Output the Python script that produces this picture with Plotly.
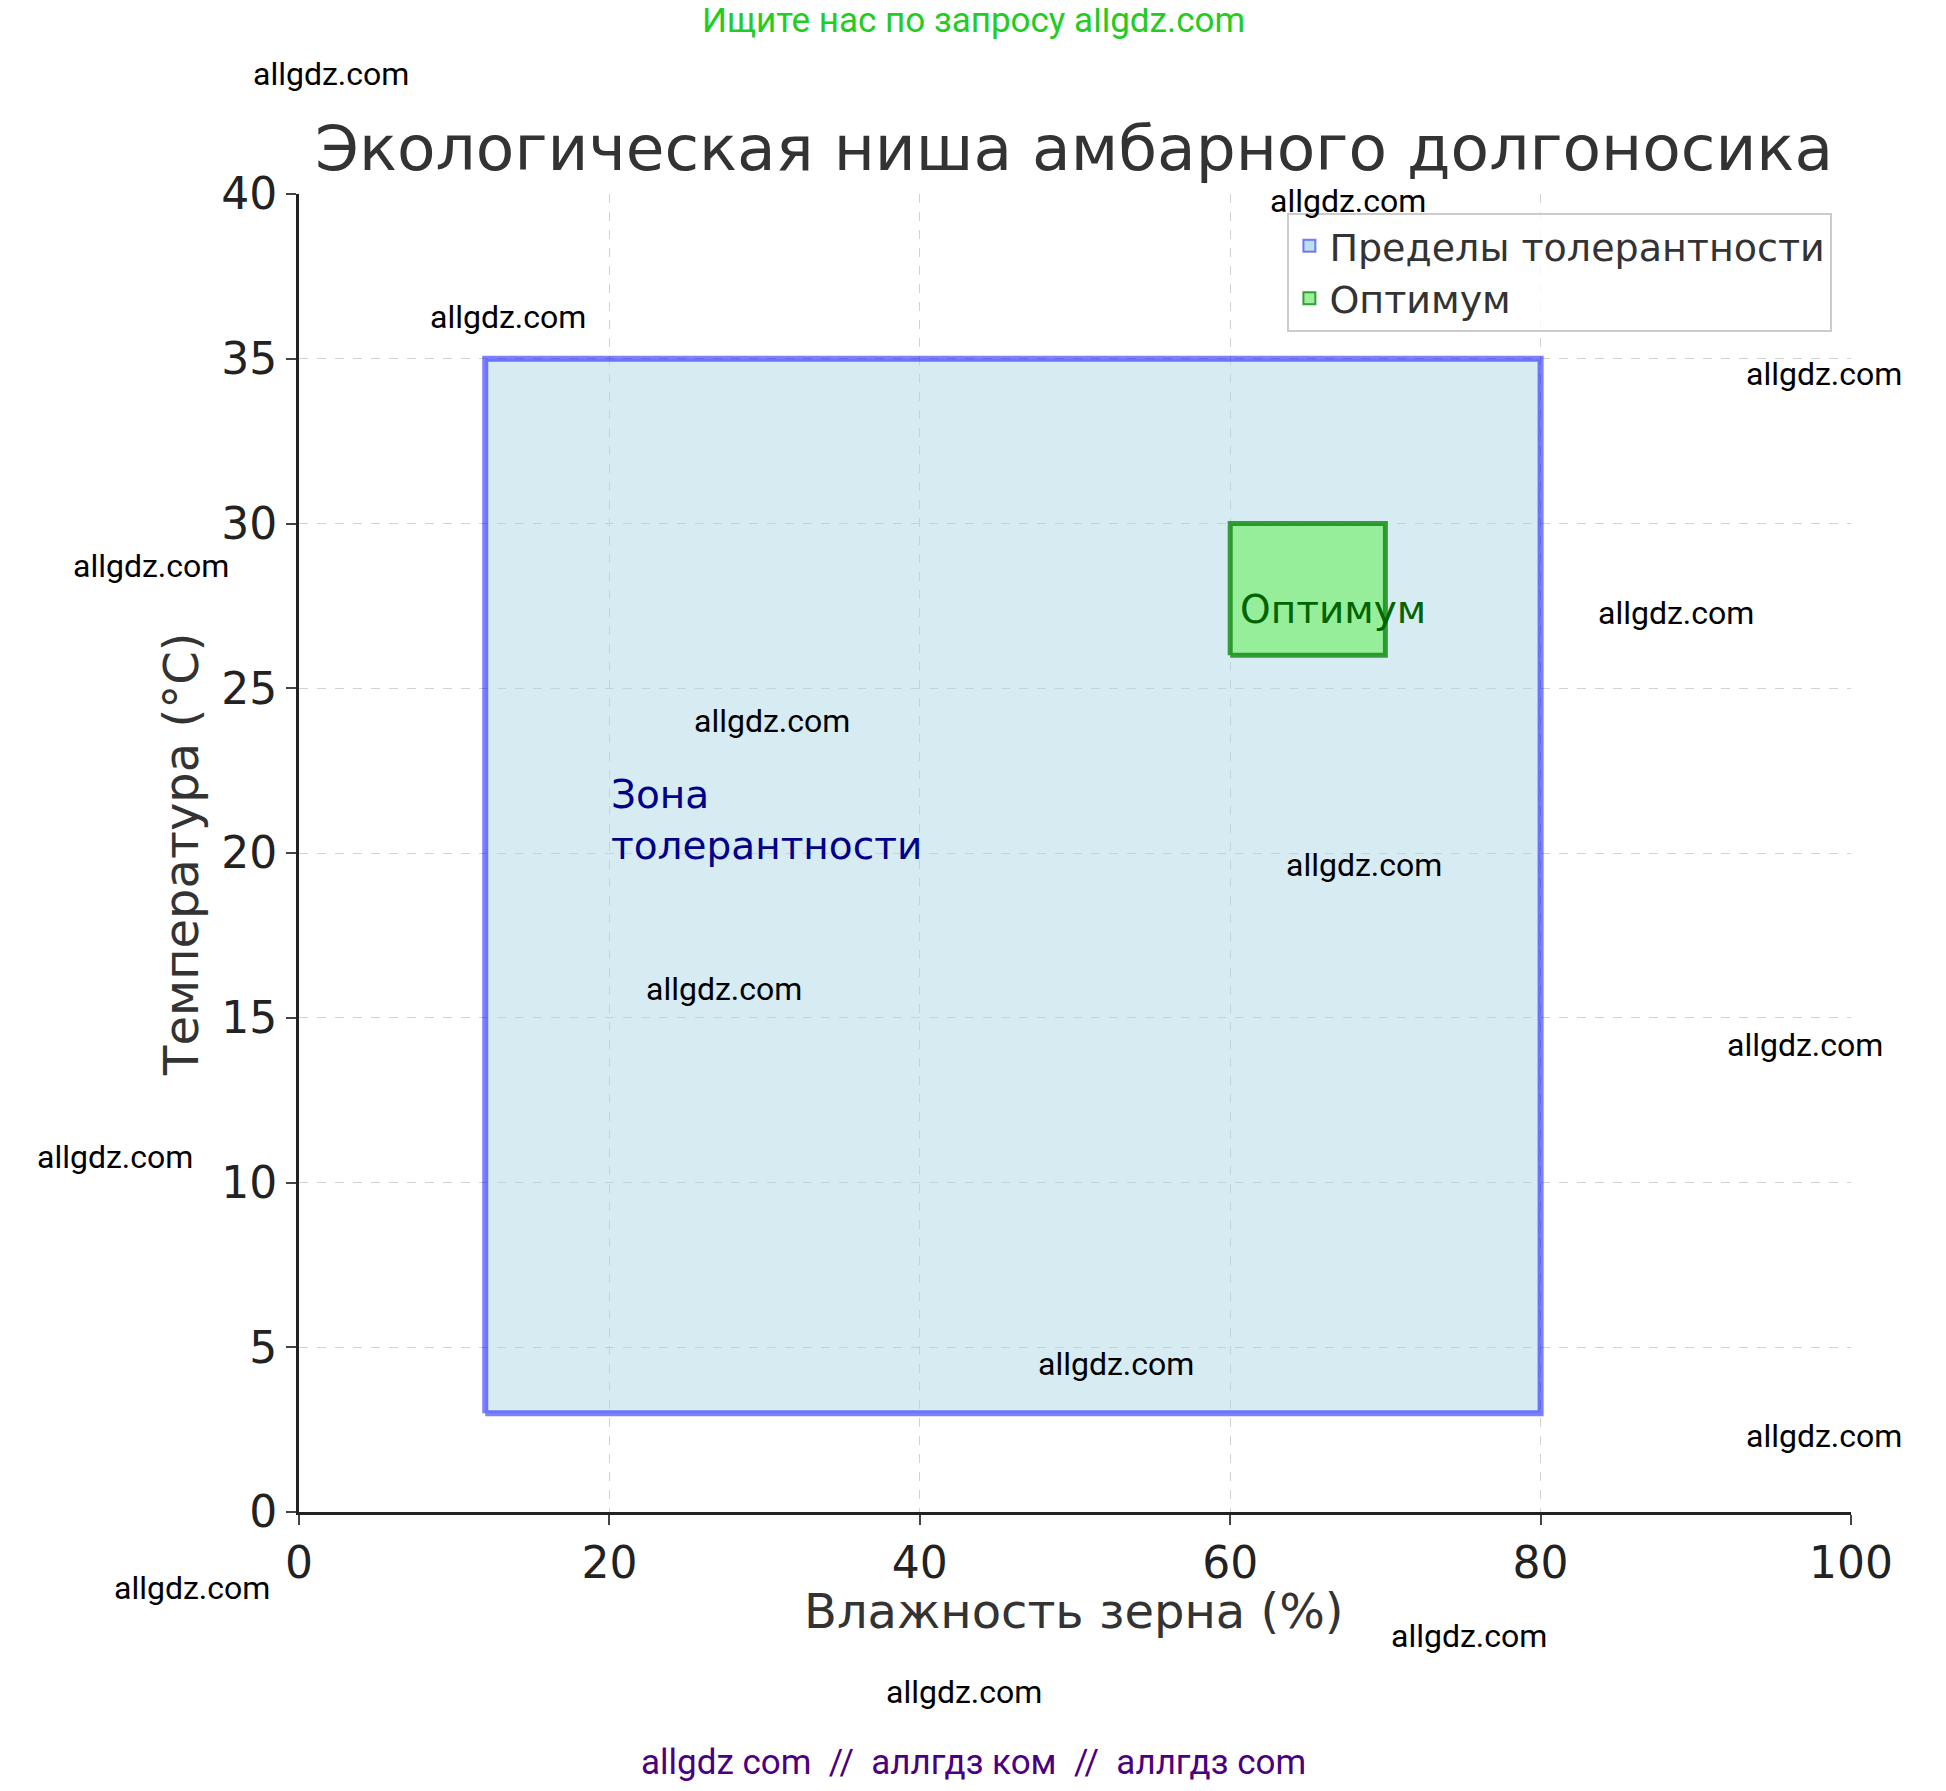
import plotly.graph_objects as go

tol_x = [12, 80]
tol_y = [3, 35]
opt_x = [60, 70]
opt_y = [26, 30]
x_ticks = [0, 20, 40, 60, 80, 100]
y_ticks = [0, 5, 10, 15, 20, 25, 30, 35, 40]

W, H = 1946, 1791
L, R, T, B = 291, 103, 186, 287

def px(X, Y):
    return ((X - 240) / 1250, (1220 - Y) / 1063)

def rect(xs, ys):
    return [xs[0], xs[1], xs[1], xs[0], xs[0]], [ys[0], ys[0], ys[1], ys[1], ys[0]]

fig = go.Figure()
rx, ry = rect(tol_x, tol_y)
fig.add_trace(go.Scatter(x=rx, y=ry, fill="toself", mode="lines", showlegend=False,
                         fillcolor="rgba(173,216,230,0.5)", line=dict(color="rgba(0,0,255,0.5)", width=6)))
ox, oy = rect(opt_x, opt_y)
fig.add_trace(go.Scatter(x=ox, y=oy, fill="toself", mode="lines", showlegend=False,
                         fillcolor="rgba(144,238,144,0.9)", line=dict(color="rgba(0,128,0,0.75)", width=5)))
fig.add_trace(go.Scatter(x=[None], y=[None], mode="markers", name="Пределы толерантности",
                         marker=dict(symbol="square", size=30, color="rgba(173,216,230,0.8)",
                                     line=dict(color="rgba(0,0,255,0.5)", width=5))))
fig.add_trace(go.Scatter(x=[None], y=[None], mode="markers", name="Оптимум",
                         marker=dict(symbol="square", size=30, color="rgba(144,238,144,0.9)",
                                     line=dict(color="rgba(0,128,0,0.75)", width=5))))

fig.add_annotation(x=20, y=21, text="Зона<br>толерантности", showarrow=False, xanchor="left", yanchor="middle",
                   align="left", font=dict(family="DejaVu Sans", size=39, color="#00008b"))
fig.add_annotation(x=60.5, y=27.4, text="Оптимум", showarrow=False, xanchor="left", yanchor="middle",
                   font=dict(family="DejaVu Sans", size=39, color="#006400"))

def ann(X, Y, text, size, color, family="Roboto", angle=0):
    xp, yp = px(X, Y)
    fig.add_annotation(x=xp, y=yp, xref="paper", yref="paper", text=text, showarrow=False,
                       xanchor="center", yanchor="middle", textangle=angle,
                       font=dict(family=family, size=size, color=color))

wm = [(266, 60), (408, 256), (1085, 163), (1468, 302), (121, 457), (1349, 495), (621, 582),
      (1098, 698), (582, 798), (1453, 843), (92, 934), (898, 1101), (1468, 1159), (154, 1281),
      (1182, 1320), (776, 1365)]
for X, Y in wm:
    ann(X, Y, "allgdz.com", 32, "black")
ann(783, 17, "Ищите нас по запросу allgdz.com", 35, "#22cc22")
ann(783, 1422, "allgdz com  //  аллгдз ком  //  аллгдз com", 35, "#4b0082")
ann(864, 1300, "Влажность зерна (%)", 48, "#333", "DejaVu Sans")
ann(145, 690, "Температура (°C)", 48, "#333", "DejaVu Sans", -90)
ann(864, 120, "Экологическая ниша амбарного долгоносика", 63, "#333", "DejaVu Sans")

axis = dict(showgrid=True, gridcolor="rgba(180,180,180,0.6)", griddash="dash", gridwidth=1,
            showline=True, linecolor="#222", linewidth=3, ticks="outside", ticklen=10, tickwidth=2,
            tickfont=dict(family="DejaVu Sans", size=44, color="#222"), zeroline=False)
fig.update_xaxes(range=[0, 100], tickvals=x_ticks, **axis)
fig.update_yaxes(range=[0, 40], tickvals=y_ticks, **axis)
lx, ly = px(1475, 172)
fig.update_layout(width=W, height=H, margin=dict(l=L, r=R, t=T, b=B), plot_bgcolor="white",
                  paper_bgcolor="white", showlegend=True,
                  legend=dict(x=lx, y=ly, xanchor="right", yanchor="top", bgcolor="rgba(255,255,255,0.8)",
                              bordercolor="#ccc", borderwidth=2, itemsizing="constant",
                              font=dict(family="DejaVu Sans", size=38, color="#333")))
fig.write_html("out.html")
